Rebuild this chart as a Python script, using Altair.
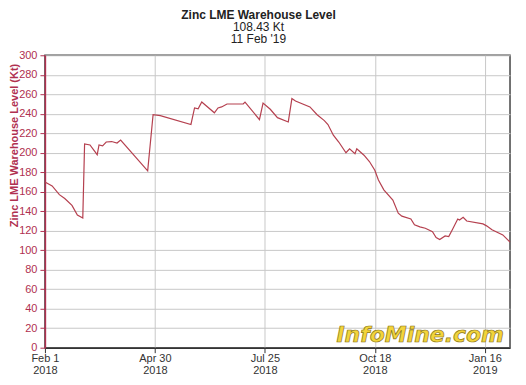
import altair as alt
import pandas as pd

# trading-day index (x) and warehouse level in kilotonnes (y)
trading_day = [0, 4, 8, 11, 15, 18, 21, 22, 25, 29, 30, 32, 34, 37, 40, 42, 57, 60, 64,
               81, 83, 85, 87, 94, 96, 98, 101, 110, 111, 119, 121, 125, 129, 135, 137,
               139, 147, 151, 155, 157, 160, 163, 167, 169, 172, 173, 177, 180, 183, 185,
               188, 193, 196, 198, 203, 205, 208, 211, 215, 217, 219, 222, 224, 226, 229,
               230, 232, 234, 243, 245, 248, 254, 258]
level_kt = [170, 166, 157, 153, 146, 136, 133, 209, 208, 198, 208, 207, 211, 211.5, 210,
            213, 181.5, 239, 238, 229, 246, 245, 252, 241, 246, 247, 250, 250, 252, 234,
            251, 244.6, 236, 231.6, 255.6, 253, 247, 239, 233, 229, 218, 211, 200, 204,
            199, 204, 197.5, 191, 182, 172, 162, 151.5, 138, 135, 132, 126, 124, 122.5,
            119, 113, 111, 114.6, 114, 121, 132, 131, 133.8, 130, 127, 125, 121, 115.7,
            108.43]

tick_days = [0, 61, 122, 183, 244]
tick_labels = [["Feb 1", "2018"], ["Apr 30", "2018"], ["Jul 25", "2018"],
               ["Oct 18", "2018"], ["Jan 16", "2019"]]

df = pd.DataFrame({"day": trading_day, "level": level_kt})

lab_arr = "[" + ",".join("['%s','%s']" % (a, b) for a, b in tick_labels) + "]"
day_arr = "[" + ",".join(str(d) for d in tick_days) + "]"
label_expr = f"{lab_arr}[indexof({day_arr}, datum.value)]"

FONT = "Liberation Sans"
RED = "#b03050"

line = alt.Chart(df).mark_line(color="#b5404f", strokeWidth=1.2).encode(
    x=alt.X("day:Q",
            scale=alt.Scale(domain=[0, 258], nice=False, zero=False),
            axis=alt.Axis(values=tick_days, labelExpr=label_expr, title=None,
                          labelFont=FONT, labelFontSize=11, labelColor="#333",
                          labelLineHeight=12, labelPadding=0,
                          tickSize=5, tickColor="#333", domainColor="#333",
                          domainWidth=1.5, gridColor="#c8c8c8", labelFlush=False)),
    y=alt.Y("level:Q",
            scale=alt.Scale(domain=[0, 300], nice=False),
            axis=alt.Axis(values=list(range(0, 301, 20)),
                          title="Zinc LME Warehouse Level (Kt)",
                          titleFont=FONT, titleFontSize=11, titleFontWeight="bold",
                          titleColor=RED, titleAngle=270, titleAlign="right",
                          titleBaseline="middle", titleX=-30, titleY=8,
                          labelFont=FONT, labelFontSize=11, labelColor=RED,
                          labelPadding=3, tickSize=5, tickColor=RED,
                          domainColor=RED, domainWidth=1.5, gridColor="#c8c8c8")),
)

watermark = alt.Chart(pd.DataFrame({"t": ["InfoMine.com"]})).mark_text(
    font="DejaVu Sans", fontSize=22, fontWeight="bold", fontStyle="italic",
    color="#f2d43a", stroke="#8a7418", strokeWidth=0.7,
    align="center", baseline="middle",
).encode(text="t:N", x=alt.value(376), y=alt.value(280))

chart = (line + watermark).properties(
    width=466, height=293,
    title=alt.TitleParams(
        text="Zinc LME Warehouse Level",
        subtitle=["108.43 Kt", "11 Feb '19"],
        font=FONT, fontSize=12, fontWeight="bold", color="#222",
        subtitleFont=FONT, subtitleFontSize=12, subtitleColor="#222",
        subtitlePadding=0, subtitleLineHeight=12, lineHeight=12,
        anchor="middle", dx=-19, offset=3,
    ),
    autosize=alt.AutoSizeParams(type="none"),
    padding={"left": 37, "top": 47, "right": 8, "bottom": 30},
).configure_view(stroke="#444", strokeWidth=1.5)

chart.save("out.html", embed_options={"renderer": "svg", "actions": False})
